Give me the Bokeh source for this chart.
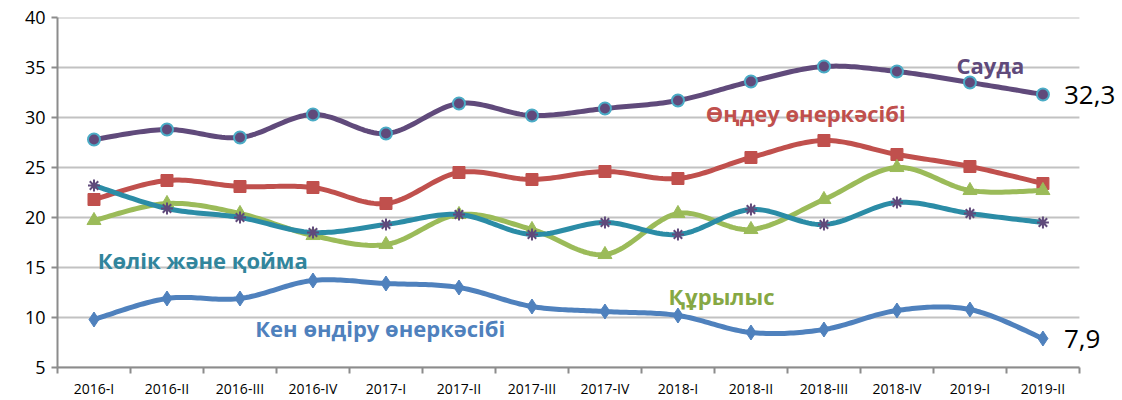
import numpy as np
from bokeh.plotting import figure
from bokeh.models import FixedTicker, Label
from bokeh.embed import file_html
from bokeh.resources import INLINE

periods = ["2016-I", "2016-II", "2016-III", "2016-IV", "2017-I", "2017-II", "2017-III",
           "2017-IV", "2018-I", "2018-II", "2018-III", "2018-IV", "2019-I", "2019-II"]
sauda = [27.8, 28.8, 28.0, 30.3, 28.4, 31.4, 30.2, 30.9, 31.7, 33.6, 35.1, 34.6, 33.5, 32.3]
ondeu = [21.8, 23.7, 23.1, 23.0, 21.4, 24.5, 23.8, 24.6, 23.9, 26.0, 27.7, 26.3, 25.1, 23.4]
qurylys = [19.7, 21.4, 20.4, 18.2, 17.3, 20.3, 18.8, 16.3, 20.4, 18.8, 21.8, 25.0, 22.7, 22.7]
kolik = [23.2, 20.9, 20.0, 18.5, 19.3, 20.3, 18.3, 19.5, 18.3, 20.8, 19.3, 21.5, 20.4, 19.5]
ken = [9.8, 11.9, 11.9, 13.7, 13.4, 13.0, 11.1, 10.6, 10.2, 8.5, 8.8, 10.7, 10.8, 7.9]
y_ticks = [5, 10, 15, 20, 25, 30, 35, 40]

names = {
    "sauda": "Сауда",
    "ondeu": "Өңдеу өнеркәсібі",
    "qurylys": "Құрылыс",
    "kolik": "Көлік және қойма",
    "ken": "Кен өндіру өнеркәсібі",
}

n_cat = len(periods)
xs = np.arange(n_cat) + 0.5


def smooth(y, n=24):
    P = np.column_stack([xs, np.asarray(y, float)])
    out = []
    m = len(P)
    for i in range(m - 1):
        p0 = P[i - 1] if i > 0 else P[i]
        p1 = P[i]
        p2 = P[i + 1]
        p3 = P[i + 2] if i + 2 < m else P[i + 1]
        c1 = p1 + (p2 - p0) / 6.0
        c2 = p2 - (p3 - p1) / 6.0
        t = np.linspace(0, 1, n, endpoint=(i == m - 2))[:, None]
        b = ((1 - t) ** 3) * p1 + 3 * ((1 - t) ** 2) * t * c1 + 3 * (1 - t) * t ** 2 * c2 + t ** 3 * p2
        out.append(b)
    a = np.vstack(out)
    return a[:, 0], a[:, 1]


p = figure(width=1122, height=400, x_range=(0, n_cat + 0.59), y_range=(y_ticks[0], y_ticks[-1]),
           output_backend="svg", toolbar_location=None,
           min_border_left=57, min_border_top=17, min_border_right=0, min_border_bottom=32)
p.outline_line_color = None
p.xgrid.grid_line_color = None
p.ygrid.grid_line_color = None
p.background_fill_color = "white"

# horizontal gridlines spanning the category area only
p.segment(x0=[0] * len(y_ticks), x1=[n_cat] * len(y_ticks), y0=y_ticks, y1=y_ticks,
          line_color="#C2C2C2", line_width=1.8, level="underlay")

p.yaxis.ticker = FixedTicker(ticks=y_ticks)
p.yaxis.axis_line_color = "#8C8C8C"
p.yaxis.axis_line_width = 2
p.yaxis.major_tick_line_color = "#8C8C8C"
p.yaxis.major_tick_line_width = 2
p.yaxis.major_tick_out = 6
p.yaxis.major_tick_in = 0
p.yaxis.minor_tick_line_color = None
p.yaxis.major_label_text_font = "Open Sans"
p.yaxis.major_label_text_font_size = "18px"
p.yaxis.major_label_text_color = "black"
p.yaxis.major_label_standoff = 6

p.xaxis.ticker = FixedTicker(ticks=list(xs), minor_ticks=list(range(0, n_cat + 1)))
p.xaxis.bounds = (0, n_cat)
p.xaxis.major_label_overrides = {float(x): lab for x, lab in zip(xs, periods)}
p.xaxis.axis_line_color = "#8C8C8C"
p.xaxis.axis_line_width = 2
p.xaxis.major_tick_line_color = None
p.xaxis.minor_tick_line_color = "#8C8C8C"
p.xaxis.minor_tick_line_width = 2
p.xaxis.minor_tick_out = 6
p.xaxis.minor_tick_in = 0
p.xaxis.major_label_text_font = "Open Sans"
p.xaxis.major_label_text_font_size = "14px"
p.xaxis.major_label_text_color = "black"
p.xaxis.major_label_standoff = 5

LW = 5

# Кен өндіру
sx, sy = smooth(ken)
p.line(sx, sy, line_color="#4F81BD", line_width=LW, line_join="round", line_cap="round")
p.scatter(xs, ken, marker="diamond", size=15, fill_color="#4F81BD", line_color="#4F81BD")

# Өңдеу
sx, sy = smooth(ondeu)
p.line(sx, sy, line_color="#C0504D", line_width=LW, line_join="round", line_cap="round")
p.scatter(xs, ondeu, marker="square", size=12, fill_color="#C0504D", line_color="#C0504D")

# Құрылыс
sx, sy = smooth(qurylys)
p.line(sx, sy, line_color="#9BBB59", line_width=LW, line_join="round", line_cap="round")
p.scatter(xs, qurylys, marker="triangle", size=14, fill_color="#9BBB59", line_color="#9BBB59")

# Көлік
sx, sy = smooth(kolik)
p.line(sx, sy, line_color="#2B8CA6", line_width=LW, line_join="round", line_cap="round")
p.scatter(xs, kolik, marker="asterisk", size=12, line_color="#604A7B", line_width=2)

# Сауда
sx, sy = smooth(sauda)
p.line(sx, sy, line_color="#604A7B", line_width=LW, line_join="round", line_cap="round")
p.scatter(xs, sauda, marker="circle", size=12, fill_color="#604A7B", line_color="#4BACC6", line_width=2)


def lab(x, y, text, color, size, align="left"):
    p.add_layout(Label(x=x, y=y, text=text, text_color=color, text_font="Open Sans",
                       text_font_size=size, text_font_style="bold",
                       text_align=align, text_baseline="middle"))


lab(12.78, 35.3, names["sauda"], "#604A7B", "22px", align="center")
lab(10.25, 30.5, names["ondeu"], "#C0504D", "22px", align="center")
lab(0.55, 15.8, names["kolik"], "#31859C", "22px")
lab(8.37, 12.2, names["qurylys"], "#86A844", "22px")
lab(2.71, 9.0, names["ken"], "#4F81BD", "22px")

p.add_layout(Label(x=xs[-1], y=sauda[-1], x_offset=21, text="32,3", text_color="black",
                   text_font="Open Sans", text_font_size="26px", text_baseline="middle"))
p.add_layout(Label(x=xs[-1], y=ken[-1], x_offset=21, text="7,9", text_color="black",
                   text_font="Open Sans", text_font_size="26px", text_baseline="middle"))

open("out.html", "w").write(file_html(p, INLINE))
